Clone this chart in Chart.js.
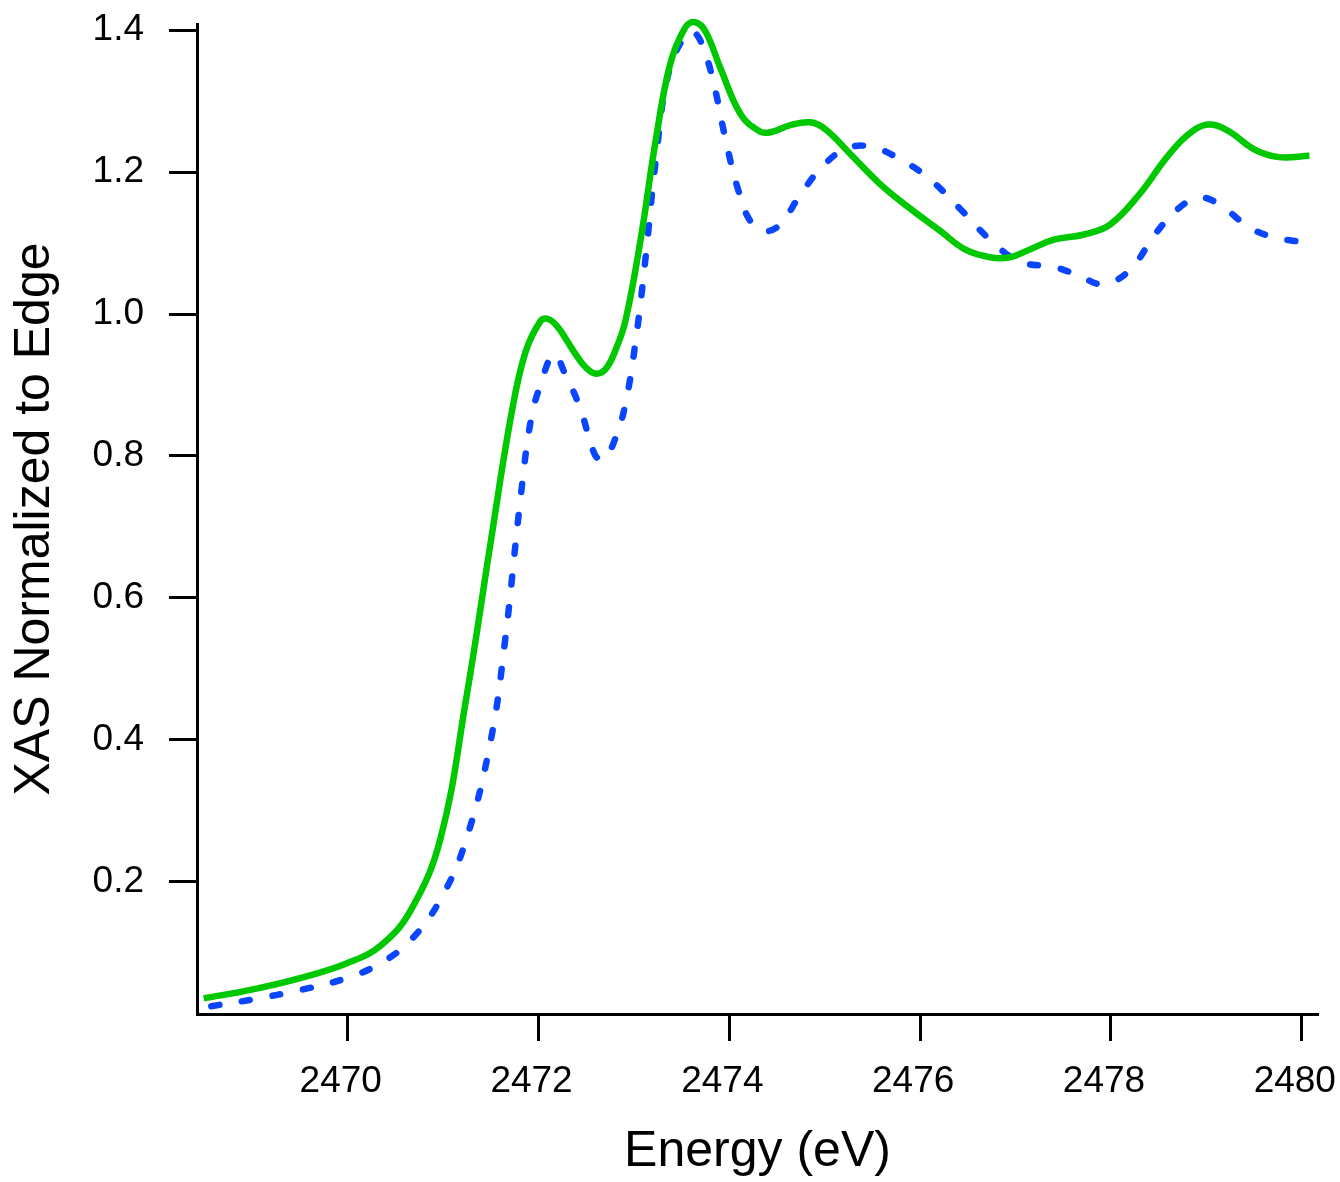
<!DOCTYPE html>
<html>
<head>
<meta charset="utf-8">
<script src="https://cdn.jsdelivr.net/npm/chart.js@4.4.1/dist/chart.umd.min.js"></script>
<style>
  html, body { margin: 0; padding: 0; background: #fff; }
  #wrap { width: 1340px; height: 1182px; }
</style>
</head>
<body>
<div id="wrap"><canvas id="xas" width="1340" height="1182"></canvas></div>
<script>
// energies (eV) and normalized XAS
var greenE = [2468.49, 2468.98, 2469.51, 2470.00, 2470.35, 2470.66, 2470.97, 2471.24, 2471.50, 2471.71,
  2471.86, 2472.02, 2472.10, 2472.20, 2472.30, 2472.40, 2472.50, 2472.60, 2472.70, 2472.80,
  2472.91, 2473.07, 2473.23,
  2473.38, 2473.54, 2473.64, 2473.75, 2473.91, 2474.12, 2474.32, 2474.43, 2474.64, 2474.85,
  2475.01, 2475.27, 2475.58, 2475.90, 2476.21, 2476.47, 2476.73, 2476.94, 2477.15, 2477.41,
  2477.72, 2477.99, 2478.30, 2478.61, 2478.88, 2479.05, 2479.24, 2479.50, 2479.76, 2480.08];
var greenV = [0.036, 0.048, 0.065, 0.086, 0.111, 0.160, 0.260, 0.457, 0.680, 0.855,
  0.945, 0.990, 0.993, 0.982, 0.962, 0.941, 0.924, 0.916, 0.922, 0.947,
  0.990, 1.105, 1.246,
  1.352, 1.404, 1.411, 1.398, 1.345, 1.281, 1.257, 1.256, 1.266, 1.270,
  1.260, 1.225, 1.183, 1.148, 1.117, 1.091, 1.080, 1.080, 1.091, 1.105,
  1.112, 1.126, 1.169, 1.225, 1.260, 1.267, 1.257, 1.232, 1.221, 1.223];

var blueE = [2468.57, 2468.98, 2469.51, 2470.00, 2470.35, 2470.66, 2470.97, 2471.24, 2471.50, 2471.65,
  2471.81, 2471.92, 2472.02, 2472.16, 2472.28, 2472.44, 2472.59, 2472.68, 2472.80, 2472.91,
  2473.02, 2473.12, 2473.23, 2473.36, 2473.54, 2473.64, 2473.75, 2473.85, 2473.96, 2474.09,
  2474.22, 2474.38, 2474.53, 2474.74, 2474.95, 2475.21, 2475.47, 2475.79, 2476.10, 2476.42,
  2476.73, 2477.04, 2477.41, 2477.68, 2477.88, 2478.04, 2478.25, 2478.46, 2478.72, 2478.93,
  2479.14, 2479.45, 2479.71, 2480.02];
var blueV = [0.025, 0.034, 0.048, 0.065, 0.086, 0.118, 0.175, 0.259, 0.400, 0.541,
  0.739, 0.851, 0.900, 0.943, 0.915, 0.866, 0.802, 0.795, 0.823, 0.873,
  0.964, 1.077, 1.218, 1.338, 1.393, 1.396, 1.366, 1.317, 1.246, 1.176,
  1.131, 1.117, 1.126, 1.167, 1.204, 1.232, 1.236, 1.218, 1.190, 1.148,
  1.105, 1.074, 1.066, 1.053, 1.042, 1.046, 1.070, 1.112, 1.150, 1.164,
  1.154, 1.122, 1.108, 1.101];

var xTicks = [2470, 2472, 2474, 2476, 2478, 2480];
var yTicks = [0.2, 0.4, 0.6, 0.8, 1.0, 1.2, 1.4];

function pts(xs, ys) {
  return xs.map(function (x, i) { return { x: x, y: ys[i] }; });
}

var font = "'Liberation Sans', Arial, sans-serif";

new Chart(document.getElementById('xas'), {
  type: 'line',
  data: {
    datasets: [
      {
        data: pts(greenE, greenV),
        borderColor: '#00c800',
        borderWidth: 6.5,
        pointRadius: 0,
        tension: 0.4,
        clip: false,
        fill: false
      },
      {
        data: pts(blueE, blueV),
        borderColor: '#0a46ff',
        borderWidth: 6.5,
        borderDash: [8, 23],
        borderCapStyle: 'round',
        pointRadius: 0,
        tension: 0.4,
        clip: false,
        fill: false
      }
    ]
  },
  options: {
    responsive: false,
    animation: false,
    layout: { padding: { top: 24, right: 22, left: 0, bottom: 0 } },
    plugins: { legend: { display: false }, tooltip: { enabled: false } },
    scales: {
      x: {
        type: 'linear',
        position: 'bottom',
        min: 2468.42,
        max: 2480.17,
        afterBuildTicks: function (s) { s.ticks = xTicks.map(function (v) { return { value: v }; }); },
        afterFit: function (s) { s.height = 168; s.paddingLeft = 0; s.paddingRight = 0; },
        border: { color: '#000', width: 3 },
        grid: { drawOnChartArea: false, tickLength: 27, tickColor: '#000', tickWidth: 3 },
        ticks: { color: '#000', font: { family: font, size: 37 }, padding: 19, maxRotation: 0,
                 labelOffset: -7,
                 callback: function (v) { return String(v); } },
        title: { display: true, text: 'Energy (eV)', color: '#000',
                 font: { family: font, size: 50 }, padding: { top: 0, bottom: 0 } }
      },
      y: {
        min: 0.014,
        max: 1.4085,
        afterBuildTicks: function (s) { s.ticks = yTicks.map(function (v) { return { value: v }; }); },
        afterFit: function (s) { s.width = 197; s.paddingTop = 0; s.paddingBottom = 0; },
        border: { color: '#000', width: 3 },
        grid: { drawOnChartArea: false, tickLength: 28, tickColor: '#000', tickWidth: 3 },
        ticks: { color: '#000', font: { family: font, size: 37 }, padding: 25,
                 callback: function (v) { return v.toFixed(1); } },
        title: { display: true, text: 'XAS Normalized to Edge', color: '#000',
                 font: { family: font, size: 50 }, padding: { top: 5, bottom: 0 } }
      }
    }
  }
});
</script>
</body>
</html>
